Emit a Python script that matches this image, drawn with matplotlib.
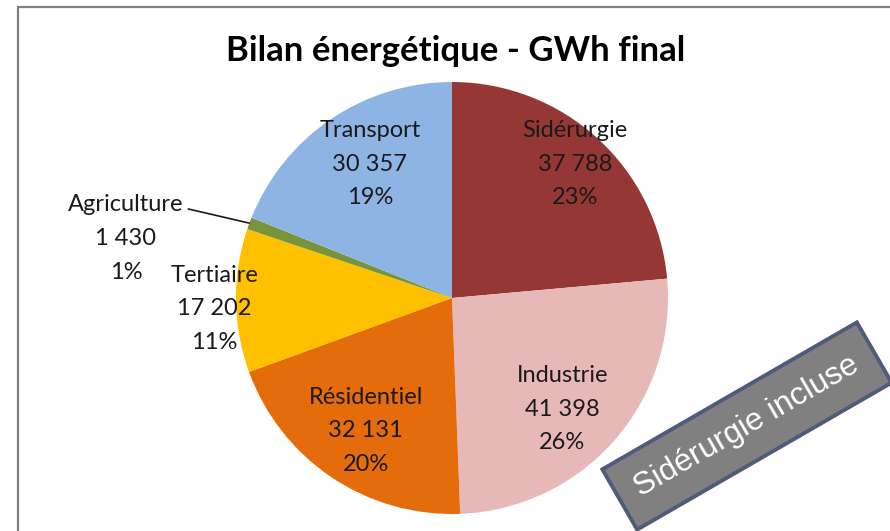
import matplotlib.pyplot as plt
from matplotlib.patches import Rectangle

# données du bilan (GWh final)
categories = ["Sidérurgie", "Industrie", "Résidentiel", "Tertiaire", "Agriculture", "Transport"]
valeurs = [37788, 41398, 32131, 17202, 1430, 30357]
valeurs_txt = ["37 788", "41 398", "32 131", "17 202", "1 430", "30 357"]
pourcents = ["23%", "26%", "20%", "11%", "1%", "19%"]
couleurs = ["#953735", "#E6B9B8", "#E46C0A", "#FFC000", "#77933C", "#8DB4E2"]

# position des étiquettes (coordonnées du camembert, rayon = 1)
pos_etiq = [(0.57, 0.62), (0.51, -0.515), (-0.40, -0.615),
            (-1.10, -0.05), (-1.51, 0.275), (-0.38, 0.62)]

W, H = 890, 531
cx, cy, R = 452, 298, 216

fig = plt.figure(figsize=(W / 100, H / 100), dpi=100)
ax = fig.add_axes([0, 0, 1, 1])

ax.pie(valeurs, colors=couleurs, startangle=90, counterclock=False,
       wedgeprops=dict(linewidth=0))
ax.set_aspect("auto")
ax.set_xlim(-cx / R, (W - cx) / R)
ax.set_ylim((cy - H) / R, cy / R)
ax.axis("off")

for nom, v, p, (x, y) in zip(categories, valeurs_txt, pourcents, pos_etiq):
    ax.text(x, y, nom + "\n" + v + "\n" + p, ha="center", va="center",
            fontsize=17, family="Lato", linespacing=1.75, color="#1a1a1a")

# trait de rappel pour Agriculture
ax.plot([-1.22, -0.94], [0.412, 0.347], color="#1a1a1a", lw=1.2)

# titre
fig.text(456 / W, 1 - 51 / H, "Bilan énergétique - GWh final", ha="center",
         va="center", fontsize=25, fontweight="bold", family="Lato")

# cadre gris (coins haut/gauche)
fig.add_artist(Rectangle((17.5 / W, -0.1), 1.2, 1.1 - 6.5 / H,
                         transform=fig.transFigure, fill=False,
                         edgecolor="#808080", lw=1.6))

# encart incliné
fig.text(747 / W, 1 - 426 / H, "Sidérurgie incluse", rotation=30,
         rotation_mode="anchor", ha="center", va="center", fontsize=23,
         family="Liberation Sans", color="white",
         bbox=dict(boxstyle="square,pad=0.62", facecolor="#808080",
                   edgecolor="#4F5B7A", linewidth=2.8))

fig.savefig("out.png", dpi=100)
